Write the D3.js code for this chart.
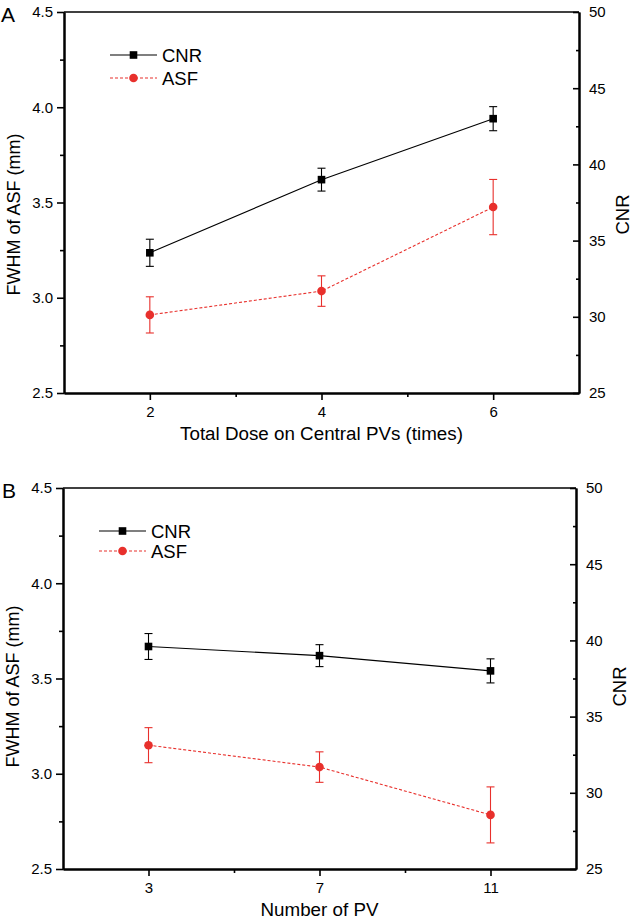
<!DOCTYPE html>
<html>
<head>
<meta charset="utf-8" />
<title>CNR and ASF</title>
<script src="https://d3js.org/d3.v7.min.js"></script>
<style>
    html, body { margin: 0; padding: 0; background: #fff; }
    svg { display: block; font-family: 'Liberation Sans', Arial, sans-serif; }
</style>
</head>
<body>
<div id="chart"></div>
<script>
// panel A: total dose on central PVs
var doseX = [2, 4, 6];
var doseCNR = [34.2, 39.0, 43.0];
var doseCNRErr = [0.89, 0.75, 0.79];
var doseASF = [2.91, 3.035, 3.476];
var doseASFErr = [0.095, 0.08, 0.145];

// panel B: number of PV
var pvX = [3, 7, 11];
var pvCNR = [39.6, 39.0, 38.0];
var pvCNRErr = [0.85, 0.72, 0.79];
var pvASF = [3.15, 3.035, 2.784];
var pvASFErr = [0.092, 0.08, 0.147];

var leftTicks = [2.5, 3.0, 3.5, 4.0, 4.5];
var leftMinor = [2.75, 3.25, 3.75, 4.25];
var rightTicks = [25, 30, 35, 40, 45, 50];
var rightMinor = [27.5, 32.5, 37.5, 42.5, 47.5];
var seriesNames = ["CNR", "ASF"];

var red = "#e8302c";
var W = 633, H = 919;

var svg = d3.select("#chart").append("svg")
    .attr("width", W)
    .attr("height", H);

function drawPanel(cfg) {
    var x = d3.scaleLinear().domain(cfg.xDomain).range([cfg.left, cfg.right]);
    var yL = d3.scaleLinear().domain([2.5, 4.5]).range([cfg.bottom, cfg.top]);
    var yR = d3.scaleLinear().domain([25, 50]).range([cfg.bottom, cfg.top]);
    var g = svg.append("g");
    var midY = (cfg.top + cfg.bottom) / 2;

    // top frame line
    g.append("line")
        .attr("x1", cfg.left).attr("x2", cfg.right)
        .attr("y1", cfg.top).attr("y2", cfg.top)
        .attr("stroke", "#000").attr("stroke-width", 1.6);

    // left axis
    g.append("g").attr("transform", "translate(" + cfg.left + ",0)")
        .call(d3.axisLeft(yL).tickValues(leftMinor).tickSize(4).tickSizeOuter(0).tickFormat(""))
        .call(styleAxis);
    g.append("g").attr("transform", "translate(" + cfg.left + ",0)")
        .call(d3.axisLeft(yL).tickValues(leftTicks).tickSize(7).tickSizeOuter(0).tickPadding(4).tickFormat(d3.format(".1f")))
        .call(styleAxis);

    // right axis, ticks inward
    g.append("g").attr("transform", "translate(" + cfg.right + ",0)")
        .call(d3.axisRight(yR).tickValues(rightMinor).tickSize(-3).tickSizeOuter(0).tickFormat(""))
        .call(styleAxis);
    g.append("g").attr("transform", "translate(" + cfg.right + ",0)")
        .call(d3.axisRight(yR).tickValues(rightTicks).tickSize(-6).tickSizeOuter(0).tickPadding(10).tickFormat(d3.format("d")))
        .call(styleAxis);

    // bottom axis
    g.append("g").attr("transform", "translate(0," + cfg.bottom + ")")
        .call(d3.axisBottom(x).tickValues(cfg.xMinor).tickSize(4).tickSizeOuter(0).tickFormat(""))
        .call(styleAxis);
    g.append("g").attr("transform", "translate(0," + cfg.bottom + ")")
        .call(d3.axisBottom(x).tickValues(cfg.xs).tickSize(7).tickSizeOuter(0).tickPadding(6).tickFormat(d3.format("d")))
        .call(styleAxis);

    // titles
    g.append("text")
        .attr("transform", "translate(" + (cfg.left - 44) + "," + (midY + cfg.titleShift) + ") rotate(-90)")
        .attr("text-anchor", "middle")
        .attr("font-size", 18)
        .text("FWHM of ASF (mm)");
    g.append("text")
        .attr("transform", "translate(" + (cfg.right + 50) + "," + (midY + cfg.titleShift) + ") rotate(-90)")
        .attr("text-anchor", "middle")
        .attr("font-size", 18.5)
        .text("CNR");
    g.append("text")
        .attr("x", (cfg.left + cfg.right) / 2)
        .attr("y", cfg.bottom + 47)
        .attr("text-anchor", "middle")
        .attr("font-size", 18.8)
        .text(cfg.xTitle);
    g.append("text")
        .attr("x", cfg.labelX).attr("y", cfg.top + 10)
        .attr("font-size", 21)
        .text(cfg.label);

    // ASF series (left axis)
    var asf = cfg.xs.map(function (d, i) { return { x: d, y: cfg.asf[i], e: cfg.asfErr[i] }; });
    var cnr = cfg.xs.map(function (d, i) { return { x: d, y: cfg.cnr[i], e: cfg.cnrErr[i] }; });

    g.append("path").datum(asf)
        .attr("fill", "none").attr("stroke", red).attr("stroke-width", 1.1)
        .attr("stroke-dasharray", "3,2")
        .attr("d", d3.line().x(function (d) { return x(d.x); }).y(function (d) { return yL(d.y); }));
    drawErr(g, asf, x, yL, red);
    g.selectAll(".asfpt").data(asf).enter().append("circle")
        .attr("cx", function (d) { return x(d.x); })
        .attr("cy", function (d) { return yL(d.y); })
        .attr("r", 4.3).attr("fill", red);

    // CNR series (right axis)
    g.append("path").datum(cnr)
        .attr("fill", "none").attr("stroke", "#000").attr("stroke-width", 1.1)
        .attr("d", d3.line().x(function (d) { return x(d.x); }).y(function (d) { return yR(d.y); }));
    drawErr(g, cnr, x, yR, "#000");
    g.selectAll(".cnrpt").data(cnr).enter().append("rect")
        .attr("x", function (d) { return x(d.x) - 3.8; })
        .attr("y", function (d) { return yR(d.y) - 3.8; })
        .attr("width", 7.6).attr("height", 7.6).attr("fill", "#000");

    // legend
    var lg = g.append("g").attr("transform", "translate(" + cfg.legX + "," + cfg.legY + ")");
    lg.append("line").attr("x1", 0).attr("x2", 47).attr("y1", 0).attr("y2", 0)
        .attr("stroke", "#000").attr("stroke-width", 1.1);
    lg.append("rect").attr("x", 23.5 - 3.8).attr("y", -3.8).attr("width", 7.6).attr("height", 7.6).attr("fill", "#000");
    lg.append("line").attr("x1", 0).attr("x2", 47).attr("y1", cfg.legGap).attr("y2", cfg.legGap)
        .attr("stroke", red).attr("stroke-width", 1.1).attr("stroke-dasharray", "3,2");
    lg.append("circle").attr("cx", 23.5).attr("cy", cfg.legGap).attr("r", 4.3).attr("fill", red);
    lg.selectAll("text").data(seriesNames).enter().append("text")
        .attr("x", 52)
        .attr("y", function (d, i) { return i * cfg.legGap + 6.5; })
        .attr("font-size", 18.5)
        .text(function (d) { return d; });
}

function drawErr(g, data, x, y, color) {
    var eg = g.append("g").attr("stroke", color).attr("stroke-width", 1.1);
    data.forEach(function (d) {
        var cx = x(d.x), y1 = y(d.y - d.e), y2 = y(d.y + d.e);
        eg.append("line").attr("x1", cx).attr("x2", cx).attr("y1", y1).attr("y2", y2);
        eg.append("line").attr("x1", cx - 4).attr("x2", cx + 4).attr("y1", y1).attr("y2", y1);
        eg.append("line").attr("x1", cx - 4).attr("x2", cx + 4).attr("y1", y2).attr("y2", y2);
    });
}

function styleAxis(sel) {
    sel.select(".domain").attr("stroke-width", 2);
    sel.selectAll(".tick line").attr("stroke-width", 1.6);
    sel.selectAll(".tick text").attr("font-size", 15).attr("fill", "#000");
    sel.attr("font-family", null);
}

drawPanel({
    label: "A", labelX: 1,
    left: 64, right: 579, top: 12, bottom: 393,
    xDomain: [1, 7], xs: doseX, xMinor: [3, 5],
    cnr: doseCNR, cnrErr: doseCNRErr, asf: doseASF, asfErr: doseASFErr,
    xTitle: "Total Dose on Central PVs (times)", titleShift: 12,
    legX: 110, legY: 55, legGap: 23
});

drawPanel({
    label: "B", labelX: 2,
    left: 63, right: 576, top: 488, bottom: 869,
    xDomain: [1, 13], xs: pvX, xMinor: [5, 9],
    cnr: pvCNR, cnrErr: pvCNRErr, asf: pvASF, asfErr: pvASFErr,
    xTitle: "Number of PV", titleShift: 8,
    legX: 99, legY: 531, legGap: 20
});
</script>
</body>
</html>
